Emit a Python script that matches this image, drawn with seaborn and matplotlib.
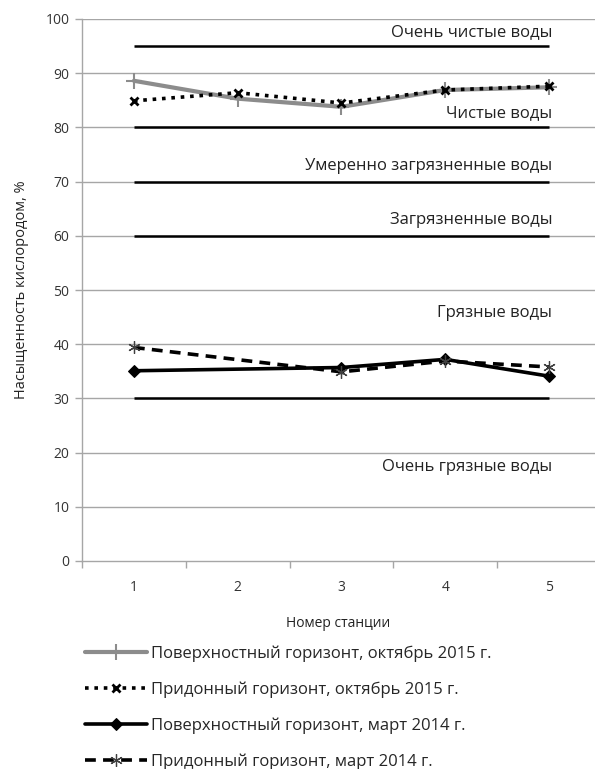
import numpy as np
import pandas as pd
import seaborn as sns
import matplotlib
matplotlib.use("Agg")
import matplotlib.pyplot as plt
from matplotlib.ticker import FixedLocator

stations = [1, 2, 3, 4, 5]
surf_oct2015 = [88.6, 85.3, 83.8, 86.9, 87.4]
bott_oct2015 = [84.9, 86.4, 84.5, 86.9, 87.6]
surf_mar2014 = [35.1, np.nan, 35.7, 37.2, 34.1]
bott_mar2014 = [39.4, np.nan, 34.9, 36.9, 35.8]
series_labels = [
    "Поверхностный горизонт, октябрь 2015 г.",
    "Придонный горизонт, октябрь 2015 г.",
    "Поверхностный горизонт, март 2014 г.",
    "Придонный горизонт, март 2014 г.",
]
class_levels = [95, 80, 70, 60, 30]
zone_names = ["Очень чистые воды", "Чистые воды", "Умеренно загрязненные воды",
              "Загрязненные воды", "Грязные воды", "Очень грязные воды"]
zone_label_y = [97.6, 82.7, 72.8, 63.0, 45.8, 17.4]
y_ticks = list(range(0, 101, 10))

sns.set_theme(style="white")
plt.rcParams['font.family'] = ['Open Sans', 'DejaVu Sans']

W, H = 595, 769
fig = plt.figure(figsize=(W / 100, H / 100), dpi=100)
ax = fig.add_axes([82 / W, 1 - 561 / H, 1 - 82 / W, (561 - 19) / H])

grey = "#a6a6a6"
for v in y_ticks[1:]:
    ax.axhline(v, color=grey, lw=1, zorder=0)

ax.hlines(class_levels, stations[0], stations[-1], color="black", lw=1.8, zorder=1)

styles = [
    dict(color="#8c8c8c", linestyle="-", lw=3, marker="+", markersize=11, mew=1.5,
         markeredgecolor="#8c8c8c"),
    dict(color="black", linestyle=(0, (1, 1.6)), lw=2.6, marker="x", markersize=6, mew=2,
         markeredgecolor="black"),
    dict(color="black", linestyle="-", lw=2.6, marker="D", markersize=6,
         markeredgecolor="black"),
    dict(color="black", linestyle=(0, (3, 2)), lw=2.6, marker=(6, 2, 0), markersize=9,
         mew=0.9, markeredgecolor="#404040"),
]
values = [surf_oct2015, bott_oct2015, surf_mar2014, bott_mar2014]
for vals, lab, st in zip(values, series_labels, styles):
    df = pd.DataFrame({"station": stations, "value": vals}).dropna()
    sns.lineplot(data=df, x="station", y="value", ax=ax, label=lab, zorder=3, **st)

for name, yv in zip(zone_names, zone_label_y):
    ax.text(5.03, yv, name, ha="right", va="center", fontsize=12, color="#222222")

ax.set_ylim(0, 100)
ax.set_xlim(0.5, 5.5 - 6 / 104)
ax.set_yticks(y_ticks)
ax.set_xticks(stations)
ax.xaxis.set_minor_locator(FixedLocator([0.5, 1.5, 2.5, 3.5, 4.5, 5.5]))
ax.tick_params(axis="x", which="major", length=0, pad=14, labelsize=10, colors="#333333")
ax.tick_params(axis="x", which="minor", length=5, width=1, color=grey, direction="out", bottom=True)
ax.tick_params(axis="y", which="major", length=5, width=1, color=grey, direction="out",
               left=True, labelsize=10, labelcolor="#333333", pad=4)
ax.set_xlabel("Номер станции", fontsize=10, color="#222222", labelpad=15)
ax.set_ylabel("Насыщенность кислородом, %", fontsize=10.5, color="#222222", labelpad=12)

for s in ["top", "right"]:
    ax.spines[s].set_visible(False)
for s in ["left", "bottom"]:
    ax.spines[s].set_color(grey)
    ax.spines[s].set_linewidth(1)

handles, labels = ax.get_legend_handles_labels()
ax.get_legend().remove()
fig.legend(handles, labels, loc="upper left", bbox_to_anchor=(85 / W, 1 - 645 / H),
           frameon=False, fontsize=12, labelspacing=1.17, handlelength=3.7,
           handletextpad=0.25, borderaxespad=0, borderpad=0)

fig.savefig("out.png", dpi=100)
